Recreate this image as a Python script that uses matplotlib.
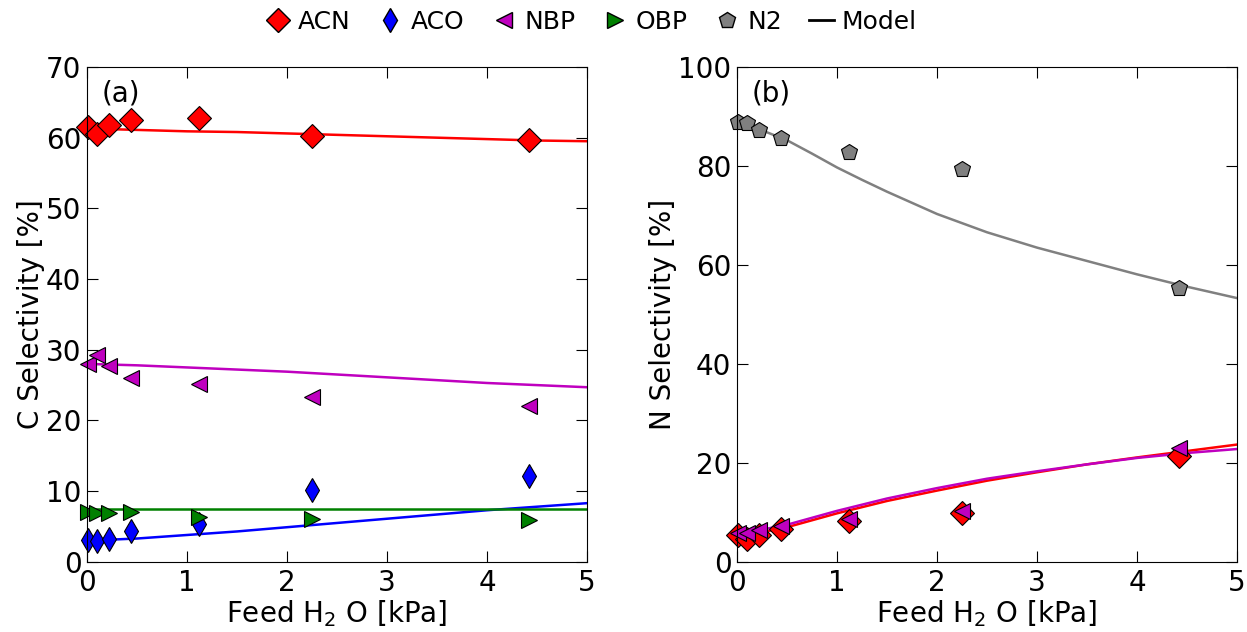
import matplotlib
matplotlib.use('Agg')
from matplotlib import pyplot as plt
from matplotlib.lines import Line2D

# feed water pressure [kPa]
feed = [0.01, 0.1, 0.22, 0.44, 1.12, 2.25, 4.42]

# (a) carbon selectivity [%]
c_acn = [61.5, 60.5, 61.8, 62.5, 62.8, 60.2, 59.7]
c_aco = [3.1, 3.0, 3.3, 4.3, 5.3, 10.1, 12.2]
c_nbp = [28.0, 29.2, 27.7, 26.0, 25.2, 23.3, 22.1]
c_obp = [7.0, 6.9, 6.9, 7.0, 6.4, 6.1, 5.9]

# (b) nitrogen selectivity [%]
n_n2 = [88.8, 88.7, 87.3, 85.6, 82.8, 79.3, 55.4]
n_acn = [5.5, 4.7, 5.5, 6.6, 8.2, 9.9, 21.4]
n_nbp = [5.9, 5.9, 6.5, 7.2, 8.6, 10.2, 23.0]

# model curves
x_model = [0, 0.5, 1, 1.5, 2, 2.5, 3, 3.5, 4, 4.5, 5]
m_c_acn = [61.3, 61.1, 60.9, 60.8, 60.6, 60.4, 60.2, 60.0, 59.8, 59.6, 59.5]
m_c_aco = [3.0, 3.3, 3.8, 4.3, 4.9, 5.5, 6.1, 6.7, 7.3, 7.8, 8.3]
m_c_nbp = [28.0, 27.8, 27.5, 27.2, 26.9, 26.5, 26.1, 25.7, 25.3, 25.0, 24.7]
m_c_obp = [7.5, 7.5, 7.5, 7.5, 7.5, 7.5, 7.5, 7.5, 7.5, 7.5, 7.5]
m_n_acn = [5.0, 7.0, 9.8, 12.3, 14.4, 16.4, 18.1, 19.7, 21.1, 22.4, 23.7]
m_n_nbp = [5.5, 7.5, 10.3, 12.8, 14.9, 16.8, 18.3, 19.7, 21.0, 22.0, 22.8]

x_n2 = [0, 0.25, 0.5, 0.75, 1, 1.25, 1.5, 2, 2.5, 3, 3.5, 4, 4.5, 5]
m_n_n2 = [88.8, 87.2, 85.2, 82.5, 79.7, 77.2, 74.8, 70.3, 66.6, 63.5, 60.8, 58.1, 55.6, 53.3]

plt.rcParams['font.family'] = 'DejaVu Sans'
plt.rcParams['font.size'] = 20
plt.rcParams['mathtext.default'] = 'regular'
plt.rcParams['xtick.direction'] = 'in'
plt.rcParams['ytick.direction'] = 'in'
plt.rcParams['xtick.top'] = True
plt.rcParams['ytick.right'] = True
plt.rcParams['xtick.major.size'] = 8
plt.rcParams['ytick.major.size'] = 8
plt.rcParams['xtick.major.pad'] = 5
plt.rcParams['ytick.major.pad'] = 4

fig = plt.figure(figsize=(12.47, 6.32), dpi=100)
ax1 = fig.add_axes([0.0698, 0.111, 0.401, 0.783])
ax2 = fig.add_axes([0.591, 0.111, 0.401, 0.783])

ms = 12
mk = dict(linestyle='none', markeredgecolor='k', markeredgewidth=0.8, markersize=ms, clip_on=False)

ax1.plot(x_model, m_c_acn, color='red', lw=1.8)
ax1.plot(x_model, m_c_aco, color='blue', lw=1.8)
ax1.plot(x_model, m_c_nbp, color='m', lw=1.8)
ax1.plot(x_model, m_c_obp, color='green', lw=1.8)
ax1.plot(feed, c_acn, marker='D', color='red', **mk)
ax1.plot(feed, c_aco, marker='d', color='blue', **mk)
ax1.plot(feed, c_nbp, marker='<', color='m', **mk)
ax1.plot(feed, c_obp, marker='>', color='green', **mk)
ax1.set_xlim(0, 5)
ax1.set_ylim(0, 70)
ax1.set_ylabel('C Selectivity [%]', labelpad=1)
ax1.set_xlabel('Feed H$_2$ O [kPa]', labelpad=1)
ax1.text(0.03, 0.975, '(a)', transform=ax1.transAxes, va='top', ha='left')

ax2.plot(x_n2, m_n_n2, color='gray', lw=1.8)
ax2.plot(x_model, m_n_acn, color='red', lw=1.8)
ax2.plot(x_model, m_n_nbp, color='m', lw=1.8)
ax2.plot(feed, n_n2, marker='p', color='gray', **mk)
ax2.plot(feed, n_acn, marker='D', color='red', **mk)
ax2.plot(feed, n_nbp, marker='<', color='m', **mk)
ax2.set_xlim(0, 5)
ax2.set_ylim(0, 100)
ax2.set_ylabel('N Selectivity [%]', labelpad=1)
ax2.set_xlabel('Feed H$_2$ O [kPa]', labelpad=1)
ax2.text(0.03, 0.975, '(b)', transform=ax2.transAxes, va='top', ha='left')

handles = [
    Line2D([], [], marker='D', color='red', markeredgecolor='k', linestyle='none', markersize=ms),
    Line2D([], [], marker='d', color='blue', markeredgecolor='k', linestyle='none', markersize=ms),
    Line2D([], [], marker='<', color='m', markeredgecolor='k', linestyle='none', markersize=ms),
    Line2D([], [], marker='>', color='green', markeredgecolor='k', linestyle='none', markersize=ms),
    Line2D([], [], marker='p', color='gray', markeredgecolor='k', linestyle='none', markersize=ms),
    Line2D([], [], color='k', lw=2),
]
labels = ['ACN', 'ACO', 'NBP', 'OBP', 'N2', 'Model']
fig.legend(handles, labels, loc='upper center', bbox_to_anchor=(0.474, 1.02), ncol=6,
           frameon=False, fontsize=18, handlelength=1.0, handletextpad=0.3, columnspacing=1.1)

fig.savefig('out.png', dpi=100)
